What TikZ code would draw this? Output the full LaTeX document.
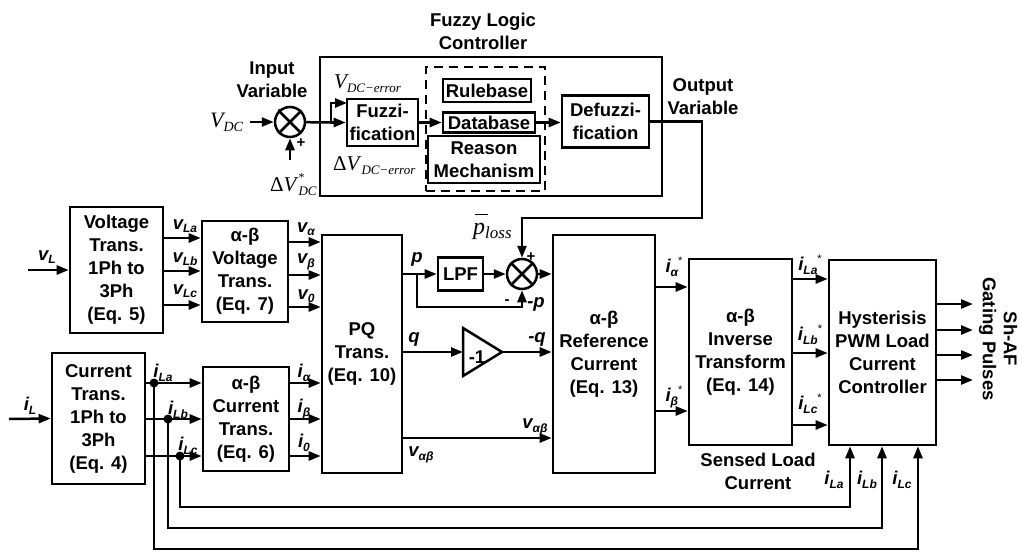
\documentclass[tikz,border=0pt]{standalone}
\usepackage{fontspec}
\setmainfont{Liberation Sans}
\newfontfamily\serif{Liberation Serif}
\usetikzlibrary{arrows.meta}
\newcommand{\sfnt}[1]{\normalfont\serif\fontsize{#1}{#1}\selectfont}
\newcommand{\bv}[2]{{\itshape #1}\raisebox{-3.5pt}{\fontsize{12}{12}\selectfont\itshape #2}}
\newcommand{\bvs}[2]{\bv{#1}{#2}\raisebox{8pt}{\normalfont\fontsize{11}{11}\selectfont *}}
\begin{document}
\begin{tikzpicture}[x=1pt,y=-1pt,
  every node/.style={font=\fontsize{18.5}{23}\selectfont\bfseries, inner sep=0pt},
  blk/.style={draw, line width=2.6pt, align=center},
  sig/.style={line width=2.5pt, -{Triangle[length=12pt,width=9pt]}},
  wire/.style={line width=2.5pt},
  dot/.style={circle, fill, minimum size=9pt},
  sumj/.style={circle, draw, line width=2.5pt, minimum size=30pt},
  sgn/.style={font=\fontsize{15}{15}\selectfont\bfseries}]
\useasboundingbox (0,0) rectangle (1021,552);

% ---------------- Fuzzy logic controller ----------------
\node[blk, minimum width=342pt, minimum height=139pt] (flc) at (491,126.5) {};
\node[align=center] (flct) at (483,31.5) {Fuzzy Logic\\Controller};
\node[align=center] (inv) at (272,80) {Input\\Variable};
\node[align=center] (outv) at (703,97) {Output\\Variable};

\node[sumj] (s1) at (290,122) {};
\draw[wire] (s1.north west) -- (s1.south east) (s1.north east) -- (s1.south west);
\node[anchor=base west] (vdc) at (210,127) {\sfnt{22}\itshape V\raisebox{-4pt}{\sfnt{14}\itshape DC}};
\coordinate (vdcin) at (250,122);
\draw[sig] (vdcin) -- (s1);
\coordinate (dvin) at (290,160);
\draw[sig] (dvin) -- (s1);
\node[anchor=base west] (dvl) at (270,191) {\sfnt{21}Δ\textit{V}\rlap{\raisebox{10pt}{\sfnt{12}*}}\raisebox{-4pt}{\sfnt{13}\itshape DC}};
\node[sgn] (m1) at (280,112) {-};
\node[sgn] (p1) at (301,143) {+};

\node[blk, minimum width=71pt, minimum height=47pt] (fuz) at (382.5,122.5) {Fuzzi-\\fication};
\coordinate (br1) at (331,122.5);
\draw[wire] (s1) -- (br1);
\draw[sig] (br1) -- (fuz.west);
\coordinate (fz1) at (347,103);
\draw[sig] (br1) |- (fz1);
\node[anchor=base west] (vel) at (334,88) {\sfnt{21}\itshape V\raisebox{-4pt}{\sfnt{13}\itshape DC−error}};
\node[anchor=base west] (dvel) at (333,170) {\sfnt{21}Δ\textit{V}\raisebox{-4pt}{\sfnt{13}\itshape DC−error}};

\node[draw, line width=2pt, dash pattern=on 9pt off 6pt, minimum width=119pt, minimum height=124pt] (kb) at (485.5,129) {};
\node[blk, minimum width=88pt, minimum height=23pt] (rb) at (487,90.5) {Rulebase};
\node[blk, minimum width=92pt, minimum height=20pt] (db) at (489,122.5) {Database};
\node[blk, minimum width=112pt, minimum height=47pt] (rm) at (484,159.5) {Reason\\Mechanism};
\node[blk, minimum width=87pt, minimum height=52pt] (dfz) at (605.5,121.5) {Defuzzi-\\fication};
\draw[sig] (fuz.east |- db.west) -- (db.west);
\draw[sig] (db.east) -- (db.east -| dfz.west);

% output to summing junction 2
\node[sumj] (s2) at (522,274) {};
\draw[wire] (s2.north west) -- (s2.south east) (s2.north east) -- (s2.south west);
\coordinate (o2) at (702,218);
\draw[sig] (dfz.east) -| (o2) -| (s2);
\node[anchor=base west] (ploss) at (473,234) {\sfnt{24}\itshape\rlap{\hspace{2pt}\rule[19pt]{13pt}{1.1pt}}p\raisebox{-4pt}{\sfnt{17}\itshape loss}};
\node[sgn] (p2) at (531,257) {+};
\node[sgn] (m2) at (507,302) {-};
\node (mpl) at (536,304) {\itshape -p};

% ---------------- Voltage path ----------------
\node[blk, minimum width=93pt, minimum height=126pt] (vt) at (116.5,270) {Voltage\\Trans.\\1Ph to\\3Ph\\(Eq. 5)};
\node[blk, minimum width=86pt, minimum height=101pt] (avt) at (245,271.5) {α-β\\Voltage\\Trans.\\(Eq. 7)};
\coordinate (vLin) at (28,270);
\draw[sig] (vLin) -- (vt.west);
\node (vL) at (47,257) {\bv{v}{L}};
\foreach \yy in {238,271,305} \draw[sig] (vt.east |- 0,\yy) -- (avt.west |- 0,\yy);
\node (vLa) at (185,226) {\bv{v}{La}};
\node (vLb) at (185,259) {\bv{v}{Lb}};
\node (vLc) at (185,291) {\bv{v}{Lc}};

% ---------------- PQ ----------------
\node[blk, minimum width=80pt, minimum height=238pt] (pq) at (362,354) {PQ\\Trans.\\(Eq. 10)};
\foreach \yy in {242,275,307} \draw[sig] (avt.east |- 0,\yy) -- (pq.west |- 0,\yy);
\node (va) at (306,229) {\bv{v}{α}};
\node (vb) at (306,262) {\bv{v}{β}};
\node (v0) at (306,296) {\bv{v}{0}};

% ---------------- Current path ----------------
\node[blk, minimum width=93pt, minimum height=131pt] (ct) at (98.5,418.5) {Current\\Trans.\\1Ph to\\3Ph\\(Eq. 4)};
\node[blk, minimum width=86pt, minimum height=104pt] (act) at (246,419) {α-β\\Current\\Trans.\\(Eq. 6)};
\coordinate (iLin) at (9,419);
\draw[sig] (iLin) -- (ct.west);
\node (iL) at (30,406) {\bv{i}{L}};
\node[dot] (dA) at (154,383) {};
\node[dot] (dB) at (168,419) {};
\node[dot] (dC) at (180,456) {};
\draw[sig] (ct.east |- dA) -- (act.west |- dA);
\draw[sig] (ct.east |- dB) -- (act.west |- dB);
\draw[sig] (ct.east |- dC) -- (act.west |- dC);
\node (iLa) at (163,373) {\bv{i}{La}};
\node (iLb) at (178,410) {\bv{i}{Lb}};
\node (iLc) at (188,446) {\bv{i}{Lc}};
\foreach \yy in {383,419,456} \draw[sig] (act.east |- 0,\yy) -- (pq.west |- 0,\yy);
\node (ia) at (304,373) {\bv{i}{α}};
\node (ib) at (304,409) {\bv{i}{β}};
\node (i0) at (304,443) {\bv{i}{0}};

% ---------------- p, q, v_ab ----------------
\node[blk, minimum width=45pt, minimum height=33pt] (lpf) at (460.5,274) {LPF};
\node[blk, minimum width=102pt, minimum height=238pt] (ref) at (604,354) {α-β\\Reference\\Current\\(Eq. 13)};
\coordinate (pbr) at (417,274);
\coordinate (pb2) at (417,307);
\draw[wire] (pq.east |- pbr) -- (pbr);
\draw[sig] (pbr) -- (lpf);
\draw[sig] (lpf) -- (s2);
\draw[sig] (s2) -- (s2 -| ref.west);
\draw[sig] (pbr) -- (pb2) -| (s2);
\node (pl) at (417,259) {\itshape p};

\coordinate (g1) at (463,328);
\coordinate (g2) at (502,352);
\coordinate (g3) at (463,376);
\coordinate (gin) at (463,352);
\draw[line width=2.5pt, line join=miter] (g1) -- (g2) -- (g3) -- cycle;
\node (gain) at (477,357) {-1};
\draw[sig] (pq.east |- gin) -- (gin);
\draw[sig] (g2) -- (g2 -| ref.west);
\node (ql) at (414,339) {\itshape q};
\node (mql) at (537,339) {\itshape -q};

\draw[sig] (pq.east |- 0,438) -- (ref.west |- 0,438);
\node (vab1) at (535,427) {\bv{v}{αβ}};
\node (vab2) at (421,455) {\bv{v}{αβ}};

% ---------------- Inverse and hysteresis ----------------
\node[blk, minimum width=103pt, minimum height=186pt] (inv2) at (740.5,352) {α-β\\Inverse\\Transform\\(Eq. 14)};
\node[blk, minimum width=107pt, minimum height=185pt] (hy) at (882.5,352.5) {Hysterisis\\PWM Load\\Current\\Controller};
\draw[sig] (ref.east |- 0,287) -- (inv2.west |- 0,287);
\draw[sig] (ref.east |- 0,411) -- (inv2.west |- 0,411);
\node (ias) at (674,267) {\bvs{i}{α}};
\node (ibs) at (674,397) {\bvs{i}{β}};
\foreach \yy in {279,353,425} \draw[sig] (inv2.east |- 0,\yy) -- (hy.west |- 0,\yy);
\node (iLas) at (810,265) {\bvs{i}{La}};
\node (iLbs) at (810,335) {\bvs{i}{Lb}};
\node (iLcs) at (810,404) {\bvs{i}{Lc}};
\node[align=center] (sens) at (758,471) {Sensed Load\\Current};

\foreach \yy/\nm in {304/ga,330/gb,355/gc,380/gd} {
  \coordinate (\nm) at (973,\yy);
  \draw[sig] (hy.east |- \nm) -- (\nm);
}
\node[rotate=-90, align=center, font=\fontsize{18.5}{21}\selectfont\bfseries] (gp) at (998,339) {Sh-AF\\Gating Pulses};

% ---------------- Feedback ----------------
\coordinate (fA) at (918,549);
\coordinate (fB) at (882,528);
\coordinate (fC) at (850,507);
\draw[sig] (dC.center) |- (fC) -- (fC |- hy.south);
\draw[sig] (dB.center) |- (fB) -- (fB |- hy.south);
\draw[sig] (dA.center) |- (fA) -- (fA |- hy.south);
\node (bLa) at (834,480) {\bv{i}{La}};
\node (bLb) at (867,480) {\bv{i}{Lb}};
\node (bLc) at (902,480) {\bv{i}{Lc}};
\end{tikzpicture}
\end{document}
